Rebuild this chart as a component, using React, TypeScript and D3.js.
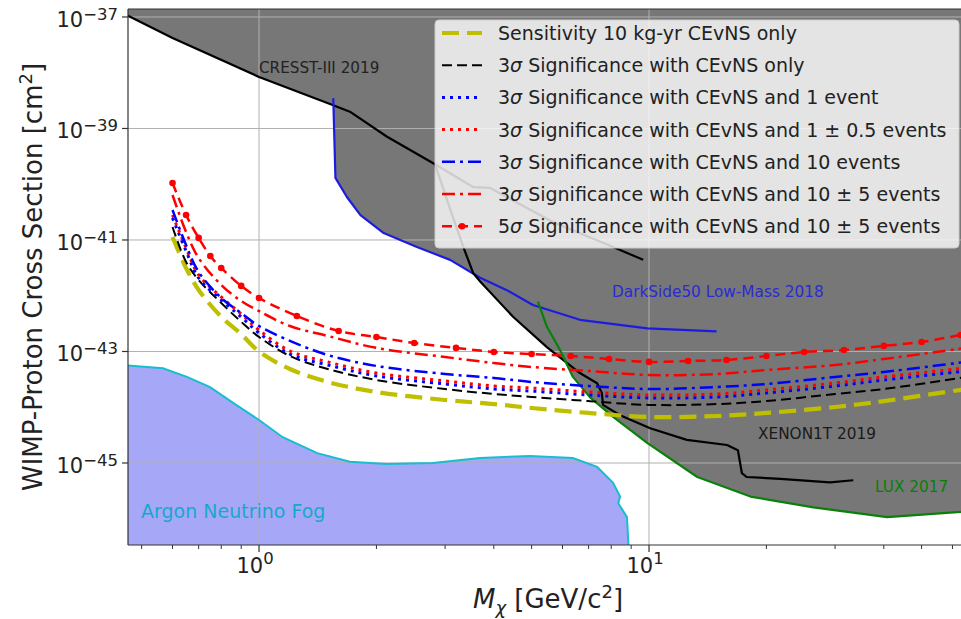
import React from "react";
import * as d3 from "d3";

// ---------- axis limits ----------
const M_MIN = 0.4613;
const M_MAX = 63.1;
const S_MIN = 3.38e-47;
const S_MAX = 1.39e-37;

const yTickValues = [1e-37, 1e-39, 1e-41, 1e-43, 1e-45];
const yTickExps = ["−37", "−39", "−41", "−43", "−45"];
const xTickValues = [1, 10];
const xTickExps = ["0", "1"];

// ---------- exclusion limits ----------
const cresstMass = [0.45, 0.6, 1.0, 1.55, 1.71, 2.13, 2.79, 3.54, 3.91, 5.67, 8.09, 9.66];
const cresstSigma = [1.15e-37, 4.2e-38, 8.4e-39, 2.6e-39, 2.0e-39, 7.1e-40, 2.4e-40, 8.9e-41, 8.6e-41, 2.1e-41, 7.5e-42, 4.4e-42];

const darksideMass = [1.55, 1.57, 1.68, 1.82, 2.08, 2.54, 3.09, 3.69, 4.32, 5.04, 6.65, 9.9, 14.9];
const darksideSigma = [3.5e-39, 1.3e-40, 5.9e-41, 2.8e-41, 1.35e-41, 7.5e-42, 4.4e-42, 2.1e-42, 1.26e-42, 6.8e-43, 3.7e-43, 2.6e-43, 2.3e-43];

const xenonMass = [2.83, 3.14, 3.34, 3.54, 3.69, 4.48, 5.47, 6.65, 7.36, 7.57, 7.62, 8.43, 10.07, 12.5, 15.85, 16.9, 17.3, 17.8, 21.7, 29.1, 33.4];
const xenonSigma = [2.2e-40, 2.6e-41, 7.5e-42, 2.56e-42, 1.8e-42, 4.2e-43, 1.2e-43, 4.1e-44, 2.7e-44, 1.8e-44, 1.1e-44, 7.2e-45, 4.2e-45, 2.6e-45, 2.1e-45, 1.7e-45, 6.6e-46, 5.6e-46, 5.2e-46, 4.5e-46, 4.9e-46];

const luxMass = [5.19, 5.47, 5.91, 6.38, 7.06, 8.09, 9.89, 13.3, 18.2, 26.4, 40.8, 65];
const luxSigma = [7.8e-43, 2.8e-43, 1.07e-43, 3.5e-44, 1.5e-44, 6.7e-45, 2.3e-45, 5.6e-46, 2.5e-46, 1.6e-46, 1.07e-46, 1.35e-46];

const fogMass = [0.45, 0.567, 0.653, 0.749, 0.858, 1.0, 1.15, 1.41, 1.71, 2.13, 2.79, 3.69, 4.95, 6.38, 7.36, 8.09, 8.43, 8.34, 8.78, 8.94];
const fogSigma = [5.7e-44, 5.0e-44, 3.5e-44, 2.3e-44, 1.2e-44, 5.9e-45, 2.9e-45, 1.5e-45, 1.05e-45, 9.6e-46, 1.0e-45, 1.23e-45, 1.34e-45, 1.23e-45, 8.5e-46, 4.4e-46, 2.5e-46, 1.9e-46, 1.07e-46, 1e-47];

// ---------- sensitivity curves ----------
const sensMass = [0.6, 0.65, 0.7, 0.8, 0.9, 1.0, 1.2, 1.5, 2, 3, 4, 5, 7, 10, 15, 20, 30, 40, 65];
const sensitivity10kgyr = [1.13e-41, 3.15e-42, 1.27e-42, 4.2e-43, 2.05e-43, 1.0e-43, 4.85e-44, 2.84e-44, 1.88e-44, 1.35e-44, 1.14e-44, 9.7e-45, 7.9e-45, 6.7e-45, 6.97e-45, 7.9e-45, 1.01e-44, 1.29e-44, 2.12e-44];
const sig3CEvNSOnly = [1.71e-41, 4.03e-42, 1.92e-42, 7.4e-43, 3.4e-43, 1.82e-43, 8.3e-44, 4.85e-44, 3.08e-44, 2.12e-44, 1.73e-44, 1.53e-44, 1.29e-44, 1.1e-44, 1.14e-44, 1.29e-44, 1.73e-44, 2.12e-44, 3.49e-44];
const sig3OneEvent = [2.48e-41, 6.35e-42, 2.08e-42, 8.4e-43, 4.16e-43, 2.15e-43, 9.0e-44, 5.73e-44, 3.64e-44, 2.61e-44, 2.12e-44, 1.95e-44, 1.66e-44, 1.47e-44, 1.53e-44, 1.8e-44, 2.4e-44, 3.08e-44, 4.47e-44];
const sig3OneHalfEvents = [2.8e-41, 7.2e-42, 2.36e-42, 9.5e-43, 4.7e-43, 2.43e-43, 1.02e-43, 6.5e-44, 4.11e-44, 2.96e-44, 2.4e-44, 2.21e-44, 1.88e-44, 1.66e-44, 1.73e-44, 2.04e-44, 2.72e-44, 3.49e-44, 5.06e-44];
const sig3TenEvents = [3.45e-41, 8.1e-42, 2.67e-42, 9.1e-43, 4.9e-43, 2.86e-43, 1.55e-43, 8.65e-44, 5.5e-44, 3.95e-44, 3.35e-44, 2.84e-44, 2.4e-44, 2.12e-44, 2.31e-44, 2.61e-44, 3.49e-44, 4.29e-44, 6.5e-44];
const sig3TenFiveEvents = [6.4e-41, 1.39e-41, 4.75e-42, 1.56e-42, 8.05e-43, 5.3e-43, 2.86e-43, 1.9e-43, 1.16e-43, 7.96e-44, 6.2e-44, 5.27e-44, 4.47e-44, 3.79e-44, 3.95e-44, 4.66e-44, 5.73e-44, 7.33e-44, 1.16e-43];
const sig5Mass = [0.6, 0.65, 0.7, 0.75, 0.8, 0.9, 1.0, 1.25, 1.6, 2.0, 2.5, 3.2, 4.0, 5.0, 6.3, 7.9, 10, 12.6, 15.8, 20, 25, 31.6, 40, 50, 63];
const sig5TenFiveEvents = [1.05e-40, 2.8e-41, 1.09e-41, 5.16e-42, 3.15e-42, 1.5e-42, 9.1e-43, 4.33e-43, 2.33e-43, 1.82e-43, 1.42e-43, 1.16e-43, 9.8e-44, 9.0e-44, 8.3e-44, 7.33e-44, 6.5e-44, 6.76e-44, 7.05e-44, 8.3e-44, 9.8e-44, 1.06e-43, 1.26e-43, 1.48e-43, 1.98e-43];

const legendLabels = [
  "Sensitivity 10 kg-yr CEvNS only",
  "3σ Significance with CEvNS only",
  "3σ Significance with CEvNS and 1 event",
  "3σ Significance with CEvNS and 1 ± 0.5 events",
  "3σ Significance with CEvNS and 10 events",
  "3σ Significance with CEvNS and 10 ± 5 events",
  "5σ Significance with CEvNS and 10 ± 5 events",
];

type Series = {
  mass: number[];
  sigma: number[];
  color: string;
  width: number;
  dash: string;
  markers?: boolean;
};

const series: Series[] = [
  { mass: sensMass, sigma: sensitivity10kgyr, color: "#bfbf00", width: 4.2, dash: "17 8" },
  { mass: sensMass, sigma: sig3CEvNSOnly, color: "#000000", width: 2, dash: "10 5" },
  { mass: sensMass, sigma: sig3OneEvent, color: "#0000ff", width: 3, dash: "3 5" },
  { mass: sensMass, sigma: sig3OneHalfEvents, color: "#ff0000", width: 3, dash: "3 5" },
  { mass: sensMass, sigma: sig3TenEvents, color: "#0000ff", width: 2.5, dash: "13 5 3 5" },
  { mass: sensMass, sigma: sig3TenFiveEvents, color: "#ff0000", width: 2.5, dash: "13 5 3 5" },
  { mass: sig5Mass, sigma: sig5TenFiveEvents, color: "#ff0000", width: 2.5, dash: "10 6", markers: true },
];

const FONT = "'DejaVu Sans', sans-serif";

export default function App() {
  const L = 128, R = 961, T = 9, B = 545;
  const x = d3.scaleLog().domain([M_MIN, M_MAX]).range([L, R]);
  const y = d3.scaleLog().domain([S_MIN, S_MAX]).range([B, T]);

  const zip = (m: number[], s: number[]) => m.map((v, i) => [v, s[i]] as [number, number]);
  const area = d3
    .area<[number, number]>()
    .x((d) => x(d[0]))
    .y0(0)
    .y1((d) => y(d[1]));
  const line = d3
    .line<[number, number]>()
    .x((d) => x(d[0]))
    .y((d) => y(d[1]));
  const smooth = d3
    .line<[number, number]>()
    .x((d) => x(d[0]))
    .y((d) => y(d[1]))
    .curve(d3.curveCatmullRom.alpha(0.5));

  const exclusions = [
    { m: cresstMass, s: cresstSigma, color: "#000000" },
    { m: darksideMass, s: darksideSigma, color: "#1c1ce0" },
    { m: xenonMass, s: xenonSigma, color: "#000000" },
    { m: luxMass, s: luxSigma, color: "#0a800a" },
  ];

  const fogPts = zip(fogMass, fogSigma);
  const fogLine = line(fogPts) || "";
  const fogFill =
    fogLine +
    `L${x(fogMass[fogMass.length - 1])},${B + 20}L${L - 20},${B + 20}L${L - 20},${y(fogSigma[0])}Z`;

  const minorTicks: number[] = [];
  [0.1, 1, 10].forEach((dec) => {
    for (let k = 2; k <= 9; k++) {
      const v = k * dec;
      if (v >= M_MIN && v <= M_MAX) minorTicks.push(v);
    }
  });

  const legendX = 435, legendY = 20, legendW = 524, legendH = 228;
  const rowY = (i: number) => 33 + i * 32.2;

  const renderLabel = (s: string) => {
    const m = s.match(/^(\d)σ(.*)$/);
    if (!m) return s;
    return (
      <>
        {m[1]}
        <tspan fontStyle="italic">σ</tspan>
        {m[2]}
      </>
    );
  };

  return (
    <>
      <style>{`body{margin:0}`}</style>
      <svg width={961} height={619} style={{ display: "block", background: "#fff" }} fontFamily={FONT}>
        <defs>
          <clipPath id="plot">
            <rect x={L} y={T} width={R - L} height={B - T} />
          </clipPath>
        </defs>
        <g clipPath="url(#plot)">
          {exclusions.map((e, i) => (
            <path key={"f" + i} d={area(zip(e.m, e.s)) || ""} fill="#777777" />
          ))}
          <path d={fogFill} fill="#a7a7f7" />
          {/* grid */}
          {yTickValues.map((t, i) => (
            <line key={"gy" + i} x1={L} x2={R} y1={y(t)} y2={y(t)} stroke="#b0b0b0" strokeWidth={1} />
          ))}
          {xTickValues.map((t, i) => (
            <line key={"gx" + i} x1={x(t)} x2={x(t)} y1={T} y2={B} stroke="#b0b0b0" strokeWidth={1} />
          ))}
          <path d={fogLine} fill="none" stroke="#17becf" strokeWidth={2} />
          {exclusions.map((e, i) => (
            <path key={"l" + i} d={line(zip(e.m, e.s)) || ""} fill="none" stroke={e.color} strokeWidth={2.2} strokeLinejoin="round" />
          ))}
          {series.map((s, i) => (
            <path
              key={"s" + i}
              d={smooth(zip(s.mass, s.sigma)) || ""}
              fill="none"
              stroke={s.color}
              strokeWidth={s.width}
              strokeDasharray={s.dash}
            />
          ))}
          {series
            .filter((s) => s.markers)
            .map((s, i) =>
              s.mass.map((m, j) => (
                <circle key={"mk" + i + "-" + j} cx={x(m)} cy={y(s.sigma[j])} r={3.3} fill={s.color} />
              ))
            )}
          {/* annotations */}
          <text x={259} y={73} fontSize={15.2} fill="#222">CRESST-III 2019</text>
          <text x={612} y={297} fontSize={15.3} fill="#2a2ad6">DarkSide50 Low-Mass 2018</text>
          <text x={758} y={439} fontSize={15.3} fill="#1a1a1a">XENON1T 2019</text>
          <text x={875} y={492} fontSize={15.3} fill="#0b7d0b">LUX 2017</text>
          <text x={141} y={518} fontSize={19} fill="#18a7cc">Argon Neutrino Fog</text>
        </g>

        {/* spines */}
        <line x1={L} x2={L} y1={T} y2={B} stroke="#333" strokeWidth={1.2} />
        <line x1={L} x2={R} y1={B} y2={B} stroke="#333" strokeWidth={1.2} />
        <line x1={L} x2={R} y1={T} y2={T} stroke="#333" strokeWidth={1.2} />

        {/* y ticks */}
        {yTickValues.map((t, i) => (
          <g key={"yt" + i}>
            <line x1={L - 6} x2={L} y1={y(t)} y2={y(t)} stroke="#333" strokeWidth={1.2} />
            <text x={118} y={y(t) + 10} textAnchor="end" fontSize={21} fill="#222">
              10
              <tspan dy={-7} fontSize={16.5}>
                {yTickExps[i]}
              </tspan>
            </text>
          </g>
        ))}
        {/* x ticks */}
        {xTickValues.map((t, i) => (
          <g key={"xt" + i}>
            <line x1={x(t)} x2={x(t)} y1={B} y2={B + 7} stroke="#333" strokeWidth={1.2} />
            <text x={x(t) - 4} y={573} textAnchor="middle" fontSize={21} fill="#222">
              10
              <tspan dy={-9} fontSize={16.5}>
                {xTickExps[i]}
              </tspan>
            </text>
          </g>
        ))}
        {minorTicks.map((t, i) => (
          <line key={"mt" + i} x1={x(t)} x2={x(t)} y1={B} y2={B + 4} stroke="#333" strokeWidth={1} />
        ))}

        {/* axis labels */}
        <text transform="translate(42,277) rotate(-90)" textAnchor="middle" fontSize={26} fill="#222">
          WIMP-Proton Cross Section [cm
          <tspan dy={-10} fontSize={18}>
            2
          </tspan>
          <tspan dy={10}>]</tspan>
        </text>
        <text x={548} y={608} textAnchor="middle" fontSize={26} fill="#222">
          <tspan fontStyle="italic">M</tspan>
          <tspan dy={6} fontSize={18} fontStyle="italic">
            χ
          </tspan>
          <tspan dy={-6}> [GeV/c</tspan>
          <tspan dy={-10} fontSize={18}>
            2
          </tspan>
          <tspan dy={10}>]</tspan>
        </text>

        {/* legend */}
        <rect x={legendX} y={legendY} width={legendW} height={legendH} rx={4} fill="#ffffff" fillOpacity={0.8} stroke="#cccccc" strokeWidth={1} />
        {series.map((s, i) => (
          <g key={"lg" + i}>
            <line x1={442} x2={482} y1={rowY(i)} y2={rowY(i)} stroke={s.color} strokeWidth={s.width} strokeDasharray={s.dash} />
            {s.markers && <circle cx={462} cy={rowY(i)} r={3.3} fill={s.color} />}
            <text x={498} y={rowY(i) + 7} fontSize={19} fill="#222">
              {renderLabel(legendLabels[i])}
            </text>
          </g>
        ))}
      </svg>
    </>
  );
}
